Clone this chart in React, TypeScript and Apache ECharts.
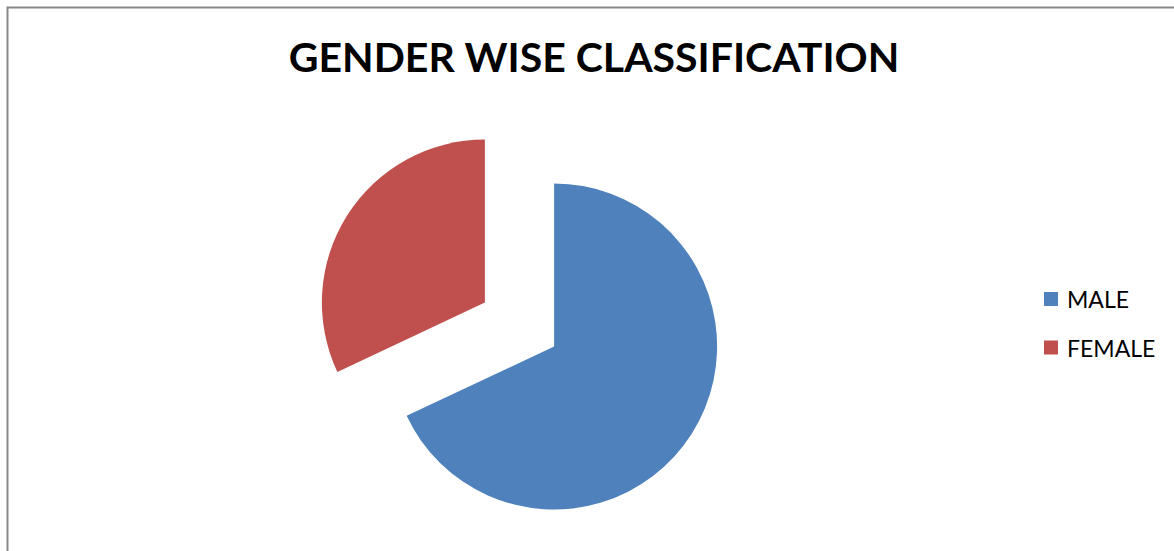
import React, { useEffect, useRef } from "react";
import * as echarts from "echarts";

const titleText = "GENDER WISE CLASSIFICATION";
const categories = ["MALE", "FEMALE"];
const values = [68, 32];
const colors = ["#4F81BD", "#C0504D"];

export default function App() {
  const ref = useRef<HTMLDivElement>(null);
  useEffect(() => {
    if (!ref.current) return;
    const chart = echarts.init(ref.current, undefined, { renderer: "svg" });
    chart.setOption({
      animation: false,
      backgroundColor: "#ffffff",
      title: {
        text: titleText,
        left: 594,
        top: 36,
        padding: 0,
        textAlign: "center",
        textStyle: {
          fontFamily: "Lato",
          fontWeight: "bold",
          fontSize: 41,
          color: "#000000",
        },
      },
      legend: {
        orient: "vertical",
        left: 1044,
        top: 287,
        padding: 0,
        itemWidth: 14,
        itemHeight: 14,
        itemGap: 24.5,
        icon: "rect",
        selectedMode: false,
        data: categories,
        textStyle: {
          fontFamily: "Lato",
          fontSize: 23,
          lineHeight: 24,
          color: "#000000",
          padding: [0, 0, 0, 4],
        },
      },
      graphic: [
        {
          type: "rect",
          shape: { x: 7.5, y: 7.5, width: 1300, height: 700 },
          style: { fill: "none", stroke: "#878787", lineWidth: 2 },
          silent: true,
        },
      ],
      series: [
        {
          type: "pie",
          center: [519.5, 324.5],
          radius: 163,
          startAngle: 90,
          clockwise: true,
          selectedMode: "multiple",
          selectedOffset: 41,
          label: { show: false },
          labelLine: { show: false },
          emphasis: { disabled: true },
          data: categories.map((c, i) => ({
            name: c,
            value: values[i],
            selected: true,
            itemStyle: { color: colors[i], borderWidth: 0 },
            select: { itemStyle: { color: colors[i], borderWidth: 0 } },
          })),
        },
      ],
    });
    return () => chart.dispose();
  }, []);
  return (
    <div
      ref={ref}
      style={{ position: "fixed", left: 0, top: 0, width: 1174, height: 551 }}
    />
  );
}
